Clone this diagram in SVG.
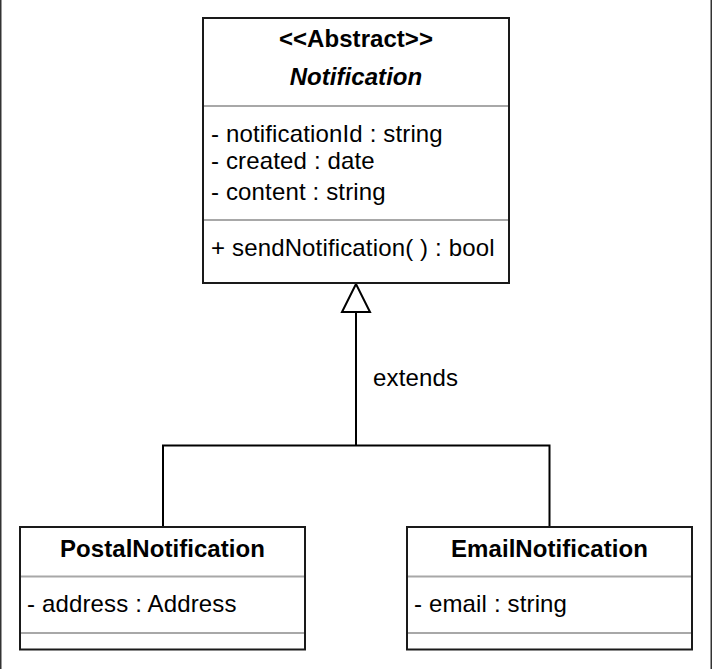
<svg xmlns="http://www.w3.org/2000/svg" width="712" height="669" viewBox="0 0 712 669">
<style>
.box{fill:#ffffff;stroke:#1a1a1a;stroke-width:2}
.sep{stroke:#a8a8a8;stroke-width:2}
.edge{fill:none;stroke:#000000;stroke-width:2}
text{font-family:"Liberation Sans",Arial,sans-serif;font-size:24px;fill:#000000;letter-spacing:0.15px}
.b{font-weight:bold;letter-spacing:0.05px}
.c{text-anchor:middle}
</style>
<rect x="0" y="0" width="712" height="669" fill="#ffffff"/>
<line x1="0.75" y1="0" x2="0.75" y2="669" stroke="#333333" stroke-width="1.5"/>
<line x1="711.25" y1="0" x2="711.25" y2="669" stroke="#333333" stroke-width="1.5"/>
<g id="connectors">
<polyline class="edge" points="163,527 163,445.5 549.5,445.5 549.5,527"/>
<line class="edge" x1="356" y1="445.5" x2="356" y2="312"/>
<polygon points="356,284 342,312 370,312" fill="#ffffff" stroke="#000000" stroke-width="2"/>
<text x="373" y="386">extends</text>
</g>
<g id="Notification">
<rect class="box" x="203" y="18" width="306" height="265"/>
<line class="sep" x1="204" y1="106" x2="508" y2="106"/>
<line class="sep" x1="204" y1="220" x2="508" y2="220"/>
<text class="b c" x="356" y="47">&lt;&lt;Abstract&gt;&gt;</text>
<text class="b c" x="356" y="85" font-style="italic">Notification</text>
<text x="211" y="142">- notificationId : string</text>
<text x="211" y="169">- created : date</text>
<text x="211" y="200">- content : string</text>
<text x="211" y="256">+ sendNotification( ) : bool</text>
</g>
<g id="PostalNotification">
<rect class="box" x="20" y="527" width="285" height="122.5"/>
<line class="sep" x1="21" y1="576.5" x2="304" y2="576.5"/>
<line class="sep" x1="21" y1="633" x2="304" y2="633"/>
<text class="b c" x="162.5" y="557">PostalNotification</text>
<text x="27" y="612">- address : Address</text>
</g>
<g id="EmailNotification">
<rect class="box" x="407" y="527" width="285" height="122.5"/>
<line class="sep" x1="408" y1="576.5" x2="691" y2="576.5"/>
<line class="sep" x1="408" y1="633" x2="691" y2="633"/>
<text class="b c" x="549.5" y="557">EmailNotification</text>
<text x="414" y="612">- email : string</text>
</g>
</svg>
